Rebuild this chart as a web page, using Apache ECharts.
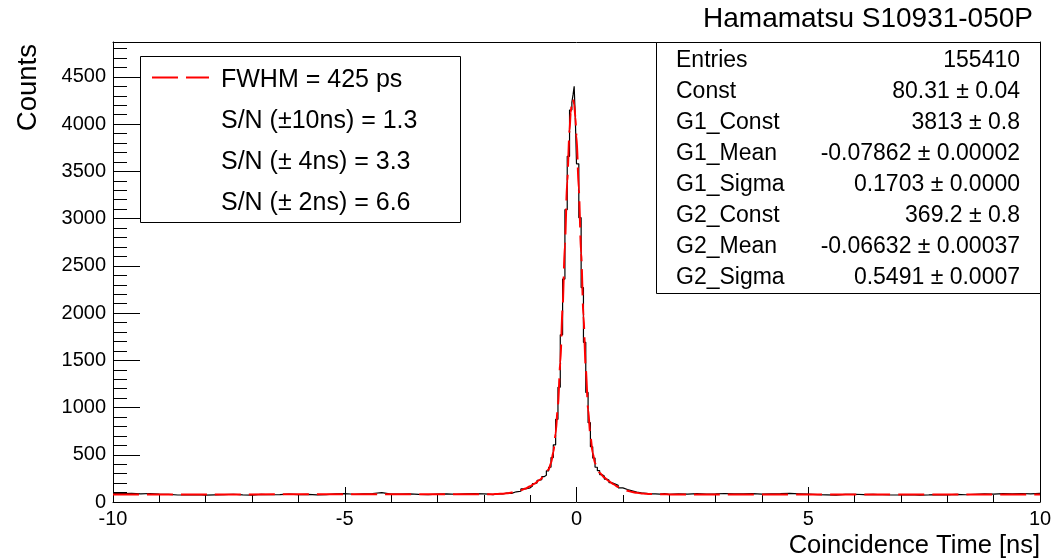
<!DOCTYPE html>
<html><head><meta charset="utf-8">
<script src="https://cdn.jsdelivr.net/npm/echarts@6/dist/echarts.min.js"></script>
<style>html,body{margin:0;padding:0;background:#fff}#c{width:1063px;height:560px}</style>
</head><body><div id="c"></div><script>
// ---- data ----
const binEdges = [
  -10,-9.8,-9.6,-9.4,-9.2,-9,-8.8,-8.6,-8.4,-8.2,-8,-7.8,-7.6,-7.4,-7.2,-7,-6.8,-6.6,-6.4,-6.2,
  -6,-5.8,-5.6,-5.4,-5.2,-5,-4.8,-4.6,-4.4,-4.2,-4,-3.8,-3.6,-3.4,-3.2,-3,-2.8,-2.6,-2.4,-2.2,
  -2,-1.9,-1.8,-1.7,-1.6,-1.5,-1.4,-1.3,-1.2,-1.1,
  -1,-0.95,-0.9,-0.85,-0.8,-0.75,-0.7,-0.65,-0.6,-0.55,-0.5,-0.45,-0.4,-0.35,-0.3,-0.25,-0.2,-0.15,
  -0.1,-0.075,-0.05,-0.025,
  0,0.05,0.1,0.15,0.2,0.25,0.3,0.35,0.4,0.45,0.5,0.55,0.6,0.65,0.7,0.75,
  0.8,0.9,1.0,1.1,1.2,1.3,1.4,1.5,1.6,1.7,1.8,1.9,
  2,2.2,2.4,2.6,2.8,3,3.2,3.4,3.6,3.8,4,4.2,4.4,4.6,4.8,5,5.2,5.4,5.6,5.8,
  6,6.2,6.4,6.6,6.8,7,7.2,7.4,7.6,7.8,8,8.2,8.4,8.6,8.8,9,9.2,9.4,9.6,9.8,10
];
const binCounts = [
  88,92,85,90,83,80,74,76,79,72,75,78,82,76,73,80,77,79,84,78,
  81,76,79,85,88,82,86,90,100,84,83,86,81,78,84,87,82,85,88,86,
  84,79,88,85,94,92,108,114,138,150,
  170,195,201,230,236,268,283,330,368,470,605,875,1215,1770,2360,3095,3660,4150,
  4230,4310,4400,4050,
  3580,3010,2270,1690,1160,840,585,465,368,332,290,276,243,232,206,197,
  176,150,132,118,104,96,92,87,86,84,88,82,
  86,84,88,83,86,90,85,87,89,84,86,88,91,87,83,79,76,72,80,82,
  78,81,77,74,76,79,73,75,78,76,80,77,82,85,83,88,86,90,87,92
];
const fitX = [-10,-2,-1.9,-1.8,-1.7,-1.6,-1.5,-1.4,-1.3,-1.2,-1.1,-1,-0.9,-0.8,-0.7,-0.6,-0.55,-0.5,-0.45,-0.4,-0.35,-0.3,-0.25,-0.2,-0.15,-0.125,-0.1,-0.075,-0.05,-0.025,0,0.05,0.1,0.15,0.2,0.25,0.3,0.35,0.4,0.45,0.5,0.6,0.7,0.8,0.9,1,1.1,1.2,1.3,1.4,1.5,1.6,1.7,1.8,1.9,2,10];
const fitY = [80.3,81.1,81.7,82.8,84.7,87.8,92.5,99.6,109.9,124.1,143.1,167.3,196.9,232.0,274.9,345.7,413.5,529.1,723.0,1029.6,1474.4,2055.2,2727.3,3396.2,3937.4,4121.4,4231.8,4262.4,4208.9,4077.3,3874.6,3308.4,2633.0,1970.7,1408.8,985.8,698.0,518.0,411.2,348.4,309.1,258.5,219.7,186.7,158.8,136.3,119.0,106.1,97.0,90.7,86.6,84.0,82.4,81.4,80.9,80.6,80.3];
const legendRows = ['FWHM = 425 ps', 'S/N (\u00b110ns) = 1.3', 'S/N (\u00b1 4ns) = 3.3', 'S/N (\u00b1 2ns) = 6.6'];
const statNames = ['Entries','Const','G1_Const','G1_Mean','G1_Sigma','G2_Const','G2_Mean','G2_Sigma'];
const statValues = ['155410','80.31 \u00b1 0.04','3813 \u00b1 0.8','-0.07862 \u00b1 0.00002','0.1703 \u00b1 0.0000','369.2 \u00b1 0.8','-0.06632 \u00b1 0.00037','0.5491 \u00b1 0.0007'];
const titleText = 'Hamamatsu S10931-050P';
const xTitle = 'Coincidence Time [ns]';
const yTitle = 'Counts';

// ---- build ----
const FONT = '"Liberation Sans", Arial, Helvetica, sans-serif';
const histData = [];
for (let i = 0; i < binCounts.length; i++) {
  histData.push([binEdges[i], binCounts[i]]);
  histData.push([binEdges[i + 1], binCounts[i]]);
}
const fitData = fitX.map((x, i) => [x, fitY[i]]);

const graphics = [];
// legend box
graphics.push({type:'rect', z:100, shape:{x:140.5, y:56.5, width:320, height:166}, style:{fill:'#fff', stroke:'#000', lineWidth:1}});
graphics.push({type:'line', z:101, shape:{x1:152, y1:77.5, x2:209, y2:77.5}, style:{stroke:'#ff0000', lineWidth:2, lineDash:[26,8]}});
legendRows.forEach((t, i) => {
  graphics.push({type:'text', z:101, x:221, y:80 + i * 41, style:{text:t, font:'25px ' + FONT, fill:'#000', align:'left', verticalAlign:'middle'}});
});
// stats box
graphics.push({type:'rect', z:100, shape:{x:656.5, y:42.5, width:384, height:251}, style:{fill:'#fff', stroke:'#000', lineWidth:1}});
statNames.forEach((t, i) => {
  graphics.push({type:'text', z:101, x:676, y:61 + i * 31, style:{text:t, font:'23px ' + FONT, fill:'#000', align:'left', verticalAlign:'middle'}});
  graphics.push({type:'text', z:101, x:1020, y:61 + i * 31, style:{text:statValues[i], font:'23px ' + FONT, fill:'#000', align:'right', verticalAlign:'middle'}});
});
// titles
graphics.push({type:'text', z:101, x:1033, y:19, style:{text:titleText, font:'28px ' + FONT, fill:'#000', align:'right', verticalAlign:'middle'}});
graphics.push({type:'text', z:101, x:1040, y:546, style:{text:xTitle, font:'25.5px ' + FONT, fill:'#000', align:'right', verticalAlign:'middle'}});
graphics.push({type:'text', z:101, x:28, y:44, rotation:Math.PI/2, style:{text:yTitle, font:'27.5px ' + FONT, fill:'#000', align:'right', verticalAlign:'middle'}});

const chart = echarts.init(document.getElementById('c'), null, {renderer:'canvas'});
const blackLine = {show:true, onZero:false, lineStyle:{color:'#000', width:1}};
chart.setOption({
  animation: false,
  backgroundColor: '#fff',
  grid: {left:113, right:23, top:42, bottom:58},
  xAxis: [
    {type:'value', min:-10, max:10, interval:5, position:'bottom',
     axisLine: blackLine,
     axisTick: {show:true, inside:true, length:15, lineStyle:{color:'#000', width:1}},
     minorTick: {show:true, splitNumber:5, length:7, lineStyle:{color:'#000', width:1}},
     splitLine:{show:false}, minorSplitLine:{show:false},
     axisLabel: {margin:7, fontSize:20, color:'#000', fontFamily:FONT, formatter: v => String(v)}},
    {type:'value', min:-10, max:10, interval:5, position:'top',
     axisLine: blackLine, axisTick:{show:false}, axisLabel:{show:false}, splitLine:{show:false}}
  ],
  yAxis: [
    {type:'value', min:0, max:4870, interval:500, position:'left',
     axisLine: blackLine,
     axisTick: {show:true, inside:true, length:27, lineStyle:{color:'#000', width:1}},
     splitLine:{show:false},
     axisLabel: {margin:7, fontSize:20, color:'#000', fontFamily:FONT, showMaxLabel:false,
                 formatter: v => (v % 500 === 0 ? String(v) : '')}},
    {type:'value', min:0, max:4870, interval:100, position:'left',
     axisLine:{show:false, onZero:false},
     axisTick: {show:true, inside:true, length:14, lineStyle:{color:'#000', width:1}},
     axisLabel:{show:false}, splitLine:{show:false}},
    {type:'value', min:0, max:4870, interval:500, position:'right',
     axisLine: blackLine, axisTick:{show:false}, axisLabel:{show:false}, splitLine:{show:false}}
  ],
  series: [
    {type:'line', name:'hist', xAxisIndex:0, yAxisIndex:0, data:histData, showSymbol:false, silent:true,
     lineStyle:{color:'#000', width:1.2}, z:3},
    {type:'line', name:'fit', xAxisIndex:0, yAxisIndex:0, data:fitData, showSymbol:false, silent:true,
     smooth:0.25, smoothMonotone:'x',
     lineStyle:{color:'#ff0000', width:2, type:[26,8]}, z:4}
  ],
  graphic: graphics
});
</script></body></html>
